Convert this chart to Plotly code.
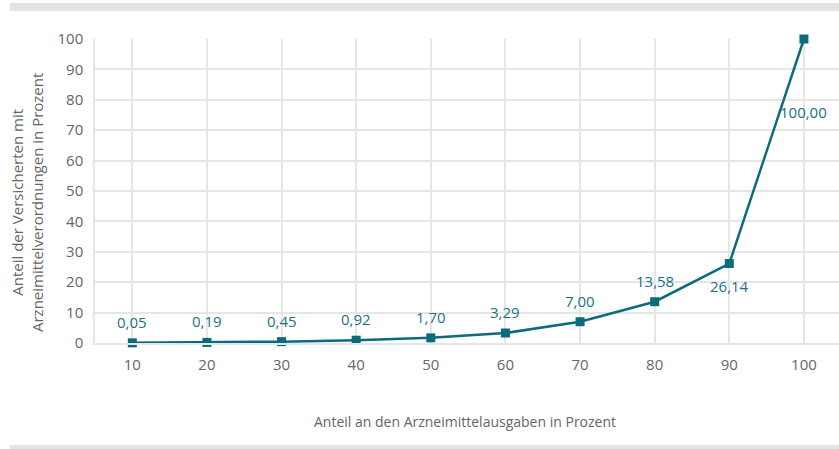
import plotly.graph_objects as go

# Anteil an den Arzneimittelausgaben (x) vs. Anteil der Versicherten (y)
ausgaben_anteil = [10, 20, 30, 40, 50, 60, 70, 80, 90, 100]
versicherte_anteil = [0.05, 0.19, 0.45, 0.92, 1.70, 3.29, 7.00, 13.58, 26.14, 100.00]
y_ticks = [0, 10, 20, 30, 40, 50, 60, 70, 80, 90, 100]

TEAL = "#0b6b7c"
LABEL = "#1a7385"
GRID = "#e6e6e6"
TICK = "#666666"
FONT = "Open Sans"

W, H = 839, 449
L, T, B = 95, 39, 106
plot_w = W - L
plot_h = H - T - B


def px_to_paper_x(px):
    return (px - L) / plot_w


def px_to_paper_y(py):
    return (H - B - py) / plot_h


def fmt(v):
    return f"{v:.2f}".replace(".", ",")


fig = go.Figure()
fig.add_trace(go.Scatter(
    x=ausgaben_anteil,
    y=versicherte_anteil,
    mode="lines+markers",
    line=dict(color=TEAL, width=2.5),
    marker=dict(symbol="square", size=9, color=TEAL),
    cliponaxis=False,
    hoverinfo="skip",
))

# value labels: above the point, except the last two
label_shift = {90: -22, 100: -73}
for xv, yv in zip(ausgaben_anteil, versicherte_anteil):
    fig.add_annotation(
        x=xv, y=yv, xref="x", yref="y",
        text=fmt(yv), showarrow=False,
        yshift=label_shift.get(xv, 21),
        font=dict(family=FONT, size=15, color=LABEL),
    )

# axis titles
fig.add_annotation(
    x=px_to_paper_x(27), y=px_to_paper_y(203), xref="paper", yref="paper",
    xanchor="center", yanchor="middle",
    text="Anteil der Versicherten mit<br>Arzneimittelverordnungen in Prozent",
    textangle=-90, showarrow=False,
    font=dict(family=FONT, size=15, color=TICK),
)
fig.add_annotation(
    x=px_to_paper_x(465), y=px_to_paper_y(421), xref="paper", yref="paper",
    xanchor="center", yanchor="middle",
    text="Anteil an den Arzneimittelausgaben in Prozent",
    showarrow=False,
    font=dict(family=FONT, size=14, color=TICK),
)

# grey rules at top and bottom
for y0, y1 in [(3, 11), (445, 452)]:
    fig.add_shape(
        type="rect", xref="paper", yref="paper",
        x0=px_to_paper_x(10), x1=1.0,
        y0=px_to_paper_y(y1), y1=px_to_paper_y(y0),
        fillcolor="#e3e3e3", line=dict(width=0), layer="below",
    )

fig.update_layout(
    width=W, height=H,
    margin=dict(l=L, r=0, t=T, b=B),
    paper_bgcolor="white",
    plot_bgcolor="white",
    showlegend=False,
    font=dict(family=FONT, size=15, color=TICK),
    xaxis=dict(
        range=[5, 104.7],
        tickvals=ausgaben_anteil,
        ticktext=[str(v) for v in ausgaben_anteil],
        showgrid=True, gridcolor=GRID, gridwidth=1.5,
        zeroline=False, showline=True, linecolor=GRID, linewidth=1.5,
        ticks="", ticklabelstandoff=7,
        tickfont=dict(family=FONT, size=15, color=TICK),
        fixedrange=True,
    ),
    yaxis=dict(
        range=[0, 100],
        tickvals=y_ticks,
        showgrid=True, gridcolor=GRID, gridwidth=1.5,
        zeroline=False, showline=True, linecolor=GRID, linewidth=1.5,
        mirror=False, ticks="", ticklabelstandoff=7,
        tickfont=dict(family=FONT, size=15, color=TICK),
        fixedrange=True,
    ),
)

fig.write_html("out.html")
